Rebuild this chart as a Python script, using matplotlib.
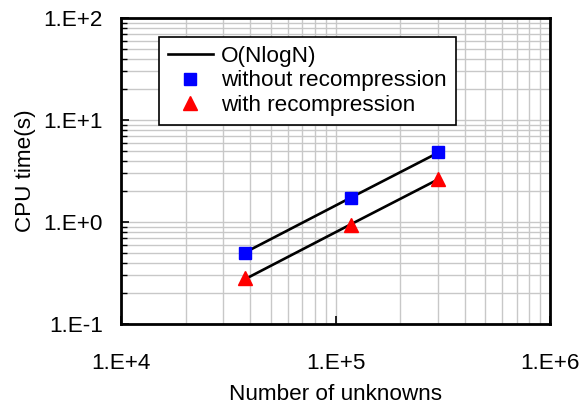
import numpy as np
import matplotlib
matplotlib.use("Agg")
import matplotlib.pyplot as plt
from matplotlib.ticker import LogLocator, FixedLocator, NullFormatter

plt.rcParams['font.family'] = ['Liberation Sans', 'DejaVu Sans']

# Data
n_unknowns = [38000, 118000, 300000]
t_without = [0.50, 1.73, 4.82]
t_with = [0.28, 0.93, 2.63]
x_ticks = [1e4, 1e5, 1e6]
x_ticklabels = ["1.E+4", "1.E+5", "1.E+6"]
y_ticks = [1e-1, 1e0, 1e1, 1e2]
y_ticklabels = ["1.E-1", "1.E+0", "1.E+1", "1.E+2"]

N = np.array(n_unknowns, dtype=float)
nlogn = N * np.log(N)

def fit(t):
    t = np.array(t, dtype=float)
    c = np.exp(np.mean(np.log(t) - np.log(nlogn)))
    return c * nlogn

FS = 16.2

fig = plt.figure(figsize=(5.82, 4.05), dpi=100)
ax = fig.add_axes([121/582, 1-324/405, (550-121)/582, (324-18)/405])
ax.set_xscale('log')
ax.set_yscale('log')
ax.set_xlim(1e4, 1e6)
ax.set_ylim(1e-1, 1e2)

ax.grid(True, which='both', color='#c8c8c8', linewidth=1.0)
ax.set_axisbelow(True)

l1, = ax.plot(N, fit(t_without), color='black', lw=1.9, label='O(NlogN)')
ax.plot(N, fit(t_with), color='black', lw=1.9)
s1, = ax.plot(N, t_without, linestyle='none', marker='s', markersize=8.5,
              color='#0000ff', label='without recompression')
s2, = ax.plot(N, t_with, linestyle='none', marker='^', markersize=10,
              color='#ff0000', label='with recompression')

ax.xaxis.set_major_locator(FixedLocator(x_ticks))
ax.set_xticklabels(x_ticklabels)
ax.yaxis.set_major_locator(FixedLocator(y_ticks))
ax.set_yticklabels(y_ticklabels)
ax.xaxis.set_minor_locator(LogLocator(base=10, subs=np.arange(2, 10), numticks=20))
ax.yaxis.set_minor_locator(LogLocator(base=10, subs=np.arange(2, 10), numticks=20))
ax.xaxis.set_minor_formatter(NullFormatter())
ax.yaxis.set_minor_formatter(NullFormatter())

ax.tick_params(axis='both', which='major', direction='in', length=6, width=1.2,
               labelsize=FS, colors='black')
ax.tick_params(axis='x', which='major', pad=21)
ax.tick_params(axis='y', which='major', pad=13)
ax.tick_params(axis='y', which='minor', direction='in', length=4, width=1.0)
ax.tick_params(axis='x', which='minor', length=0)

for sp in ax.spines.values():
    sp.set_linewidth(2.0)
    sp.set_color('black')

ax.set_xlabel('Number of unknowns', fontsize=FS, labelpad=7)
ax.set_ylabel('CPU time(s)', fontsize=FS, labelpad=5)

leg = fig.legend(handles=[l1, s1, s2], loc='upper left',
                 bbox_to_anchor=(159/582, 1-37/405), bbox_transform=fig.transFigure,
                 fontsize=FS, frameon=True, fancybox=False, framealpha=1,
                 edgecolor='black', borderaxespad=0, handlelength=2.0,
                 handletextpad=0.35, labelspacing=0.15, borderpad=0.4)
leg.get_frame().set_linewidth(1.2)

fig.savefig('out.png', dpi=100)
